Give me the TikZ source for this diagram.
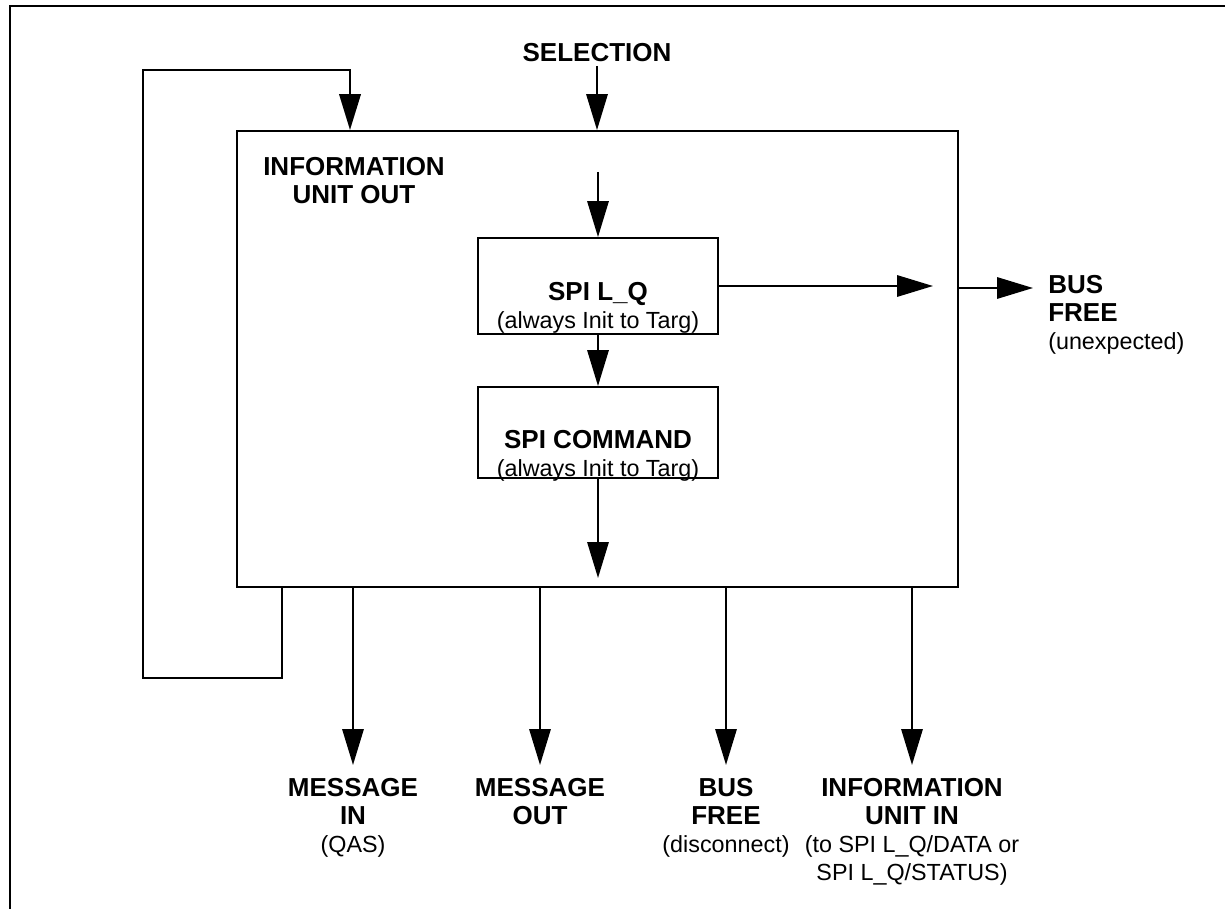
\documentclass[tikz,border=0pt]{standalone}
\usepackage{fontspec}
\setmainfont{Liberation Sans}
\usetikzlibrary{arrows.meta}
\newcommand{\subtext}[1]{{\fontsize{17.5}{21}\selectfont\mdseries #1}}

\begin{document}
\begin{tikzpicture}[x=0.75pt,y=-0.75pt,
		box/.style={draw,line width=1.4pt,inner sep=0pt},
		lbl/.style={inner sep=0pt,align=center,font=\fontsize{19.5}{21}\selectfont\bfseries},
		outlbl/.style={lbl,anchor=north,outer sep=9.75pt},
		arr/.style={line width=1.6pt,-{Triangle[length=27pt,width=16pt]}}]
	\useasboundingbox (0,0) rectangle (1225,909);
	\draw[line width=1.5pt] (10,909) -- (10,6) -- (1225,6);
	% phase box and the two information units in it
	\node[box,minimum width=540.75pt,minimum height=342pt] (iuo) at (597.5,359) {};
	\node[lbl,anchor=north] (iuolbl) at (354,157) {INFORMATION\\UNIT OUT};
	\node[box,minimum width=180pt,minimum height=72pt] (lq) at (598,286) {};
	\node[lbl,anchor=north] (lqtxt) at (598,282) {SPI L\_Q\\\subtext{(always Init to Targ)}};
	\node[box,minimum width=180pt,minimum height=68.25pt] (cmd) at (598,432.5) {};
	\node[lbl,anchor=north] (cmdtxt) at (598,430) {SPI COMMAND\\\subtext{(always Init to Targ)}};
	\node[lbl,anchor=north] (sel) at (597,43) {SELECTION};
	\node[lbl,anchor=north west,align=left] (bfr) at (1048,275) {BUS\\FREE\\\subtext{(unexpected)}};
	% phases that follow
	\node[outlbl] (msgin) at (353,765) {MESSAGE\\IN\\\subtext{(QAS)}};
	\node[outlbl] (msgout) at (540,765) {MESSAGE\\OUT};
	\node[outlbl] (bfb) at (726,765) {BUS\\FREE\\\subtext{(disconnect)}};
	\node[outlbl] (iuin) at (912,765) {INFORMATION\\UNIT IN\\\subtext{(to SPI L\_Q/DATA or}\\\subtext{SPI L\_Q/STATUS)}};
	\coordinate (lqin) at (598,172);
	\coordinate (lqout) at (933,286);
	\coordinate (cmdout) at (598,578);
	\coordinate (bfin) at (1033,288);
	\coordinate (lpr) at (282,678);
	\coordinate (lpl) at (143,678);
	\coordinate (lptl) at (143,70);
	\coordinate (lptr) at (350,70);
	\draw[arr] ([yshift=-3pt]sel.south) -- (sel.south |- iuo.north);
	\draw[arr,line width=2pt] (iuo.south -| lpr) -- (lpr) -- (lpl) -- (lptl) -- (lptr) -- (iuo.north -| lptr);
	\draw[arr] (lqin) -- (lq.north);
	\draw[arr] (lq.south) -- (cmd.north);
	\draw[arr] (cmd.south) -- (cmdout);
	\draw[arr] (lq.east) -- (lqout);
	\draw[arr] (iuo.east |- bfin) -- (bfin);
	\draw[arr] (iuo.south -| msgin.north) -- (msgin.north);
	\draw[arr] (iuo.south -| msgout.north) -- (msgout.north);
	\draw[arr] (iuo.south -| bfb.north) -- (bfb.north);
	\draw[arr] (iuo.south -| iuin.north) -- (iuin.north);
\end{tikzpicture}
\end{document}
